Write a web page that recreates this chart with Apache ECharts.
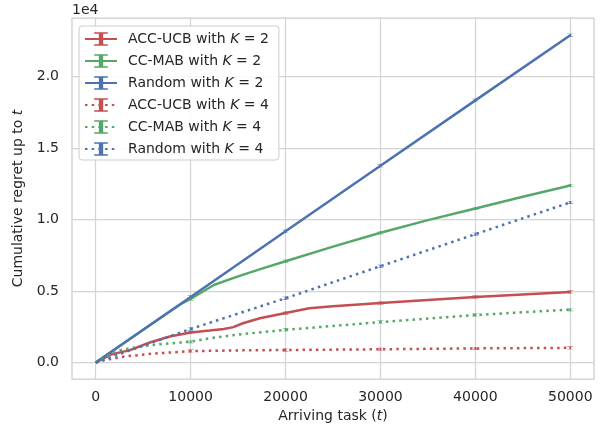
<!DOCTYPE html>
<html>
<head>
<meta charset="utf-8">
<script src="https://cdn.jsdelivr.net/npm/echarts@6/dist/echarts.min.js"></script>
<style>html,body{margin:0;padding:0;background:#fff}#c{width:611px;height:429px}</style>
</head>
<body>
<div id="c"></div>
<script>
// ---- data ----
const seriesNames = [
  'ACC-UCB with K = 2', 'CC-MAB with K = 2', 'Random with K = 2',
  'ACC-UCB with K = 4', 'CC-MAB with K = 4', 'Random with K = 4'
];
const accK2_t = [0, 1500, 3600, 5700, 7800, 10000, 12000, 13500, 14500, 15500, 17300, 20000, 22500, 25000, 30000, 35000, 40000, 45000, 50000];
const accK2_v = [0, 540, 870, 1400, 1820, 2100, 2240, 2350, 2480, 2750, 3100, 3470, 3800, 3940, 4170, 4380, 4580, 4760, 4930];
const ccK2_t = [0, 5000, 8000, 9000, 10000, 11000, 12000, 12500, 15000, 17500, 20000, 25000, 30000, 35000, 40000, 45000, 50000];
const ccK2_v = [0, 2290, 3660, 4100, 4450, 4850, 5250, 5440, 6030, 6570, 7090, 8110, 9080, 9960, 10780, 11600, 12390];
const rndK2_t = [0, 10000, 20000, 30000, 40000, 50000];
const rndK2_v = [0, 4580, 9180, 13760, 18340, 22900];
const accK4_t = [0, 1000, 3000, 6000, 10000, 15000, 20000, 30000, 40000, 50000];
const accK4_v = [0, 180, 420, 620, 800, 850, 880, 930, 990, 1030];
const ccK4_t = [0, 1000, 2600, 4700, 7000, 10000, 12000, 15000, 20000, 25000, 30000, 35000, 40000, 45000, 50000];
const ccK4_v = [0, 400, 870, 1120, 1300, 1460, 1700, 1960, 2290, 2560, 2830, 3080, 3320, 3520, 3700];
const rndK4_t = [0, 10000, 20000, 30000, 40000, 50000];
const rndK4_v = [0, 2350, 4500, 6740, 8980, 11200];
const xTicks = [0, 10000, 20000, 30000, 40000, 50000];
const xTickLabels = ['0', '10000', '20000', '30000', '40000', '50000'];
const yTicks = [0, 5000, 10000, 15000, 20000];
const yTickLabels = ['0.0', '0.5', '1.0', '1.5', '2.0'];

const RED = '#C44E52', GREEN = '#55A868', BLUE = '#4C72B0';
const TXT = '#262626';
const FONT = '"DejaVu Sans", sans-serif';
const ebar = 'path://M2.8,0H7.2V1.2H5.7V8.8H7.2V10H2.8V8.8H4.3V1.2H2.8Z';

function pairs(t, v) { return t.map((x, i) => [x, v[i]]); }
function mk(name, t, v, color, dotted) {
  return {
    name: name, type: 'line', data: pairs(t, v),
    symbol: ebar, showAllSymbol: true,
    symbolSize: function (val) { return (val[0] % 10000 === 0 && val[0] > 0) ? [6, 3] : 0; },
    itemStyle: { color: color },
    lineStyle: { color: color, width: 2.5, type: dotted ? [2.5, 4.2] : 'solid', cap: 'butt' },
    emphasis: { disabled: true }, animation: false, z: 3
  };
}

const chart = echarts.init(document.getElementById('c'), null, { renderer: 'canvas' });
chart.setOption({
  animation: false,
  backgroundColor: '#ffffff',
  textStyle: { fontFamily: FONT, color: TXT },
  grid: { left: 72, right: 17, top: 18, bottom: 50, show: true, borderColor: '#cccccc', borderWidth: 1.25, backgroundColor: 'transparent', outerBoundsMode: 'none', containLabel: false },
  legend: {
    orient: 'vertical', left: 79, top: 26,
    padding: [6, 10, 4, 5], itemGap: 8, itemWidth: 32, itemHeight: 17,
    backgroundColor: 'rgba(255,255,255,0.85)', borderColor: '#cccccc', borderWidth: 1, borderRadius: 3,
    data: seriesNames,
    formatter: function (n) { return n.replace('K', '{i|K}'); },
    textStyle: { fontFamily: FONT, fontSize: 14, color: TXT, padding: [0, 0, 0, 6],
      rich: { i: { fontFamily: FONT, fontSize: 14, fontStyle: 'italic', color: TXT } } }
  },
  xAxis: {
    type: 'value', min: -2500, max: 52500,
    name: 'Arriving task ({i|t})', nameLocation: 'middle', nameGap: 26,
    nameTextStyle: { fontFamily: FONT, fontSize: 14, color: TXT, rich: { i: { fontFamily: FONT, fontSize: 14, fontStyle: 'italic', color: TXT } } },
    axisLine: { show: false }, axisTick: { show: false, customValues: xTicks },
    axisLabel: { customValues: xTicks, margin: 11, fontFamily: FONT, fontSize: 14, color: TXT,
      formatter: function (v) { const i = xTicks.indexOf(v); return i >= 0 ? xTickLabels[i] : ''; } },
    splitLine: { show: true, lineStyle: { color: '#d4d4d4', width: 1.25 } }
  },
  yAxis: {
    type: 'value', min: -1150, max: 24100,
    name: 'Cumulative regret up to {i|t}', nameLocation: 'middle', nameGap: 45,
    nameTextStyle: { fontFamily: FONT, fontSize: 14, color: TXT, rich: { i: { fontFamily: FONT, fontSize: 14, fontStyle: 'italic', color: TXT } } },
    axisLine: { show: false }, axisTick: { show: false, customValues: yTicks },
    axisLabel: { customValues: yTicks, margin: 13, fontFamily: FONT, fontSize: 14, color: TXT,
      formatter: function (v) { const i = yTicks.indexOf(v); return i >= 0 ? yTickLabels[i] : ''; } },
    splitLine: { show: true, lineStyle: { color: '#d4d4d4', width: 1.25 } }
  },
  graphic: [{ type: 'text', left: 72, top: 3, style: { text: '1e4', font: '14px ' + FONT, fill: TXT } }],
  series: [
    mk(seriesNames[0], accK2_t, accK2_v, RED, false),
    mk(seriesNames[1], ccK2_t, ccK2_v, GREEN, false),
    mk(seriesNames[2], rndK2_t, rndK2_v, BLUE, false),
    mk(seriesNames[3], accK4_t, accK4_v, RED, true),
    mk(seriesNames[4], ccK4_t, ccK4_v, GREEN, true),
    mk(seriesNames[5], rndK4_t, rndK4_v, BLUE, true)
  ]
});
</script>
</body>
</html>
